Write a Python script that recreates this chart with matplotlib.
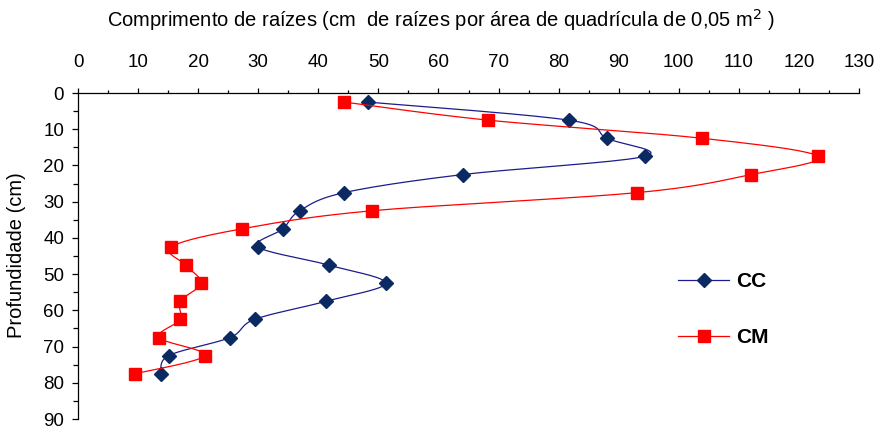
import numpy as np
import matplotlib
matplotlib.use('Agg')
import matplotlib.pyplot as plt
from matplotlib.ticker import MultipleLocator

plt.rcParams['font.family'] = ['Liberation Sans', 'DejaVu Sans']

# profundidade (cm) - centro de cada camada
prof = [2.5, 7.5, 12.5, 17.5, 22.5, 27.5, 32.5, 37.5, 42.5, 47.5,
        52.5, 57.5, 62.5, 67.5, 72.5, 77.5]
cc = [48.2, 81.7, 88.0, 94.3, 64.1, 44.3, 36.9, 34.1, 30.0, 41.7,
      51.2, 41.3, 29.4, 25.3, 15.1, 13.8]
cm = [44.3, 68.3, 103.9, 123.2, 112.1, 93.1, 49.0, 27.3, 15.5, 17.9,
      20.5, 17.0, 17.0, 13.5, 21.1, 9.5]


def smooth(x, y, n=20):
    # curva suavizada tipo Excel (bezier com pontos de controle catmull-rom)
    p = np.column_stack([x, y]).astype(float)
    pts = [p[0]]
    for i in range(len(p) - 1):
        p0 = p[i - 1] if i > 0 else p[i]
        p1 = p[i]
        p2 = p[i + 1]
        p3 = p[i + 2] if i + 2 < len(p) else p[i + 1]
        c1 = p1 + (p2 - p0) / 6.0
        c2 = p2 - (p3 - p1) / 6.0
        t = np.linspace(0, 1, n)[1:, None]
        seg = ((1 - t) ** 3) * p1 + 3 * ((1 - t) ** 2) * t * c1 \
            + 3 * (1 - t) * t ** 2 * c2 + t ** 3 * p2
        pts.extend(seg)
    pts = np.array(pts)
    return pts[:, 0], pts[:, 1]


fig = plt.figure(figsize=(8.83, 4.30), dpi=100)
ax = fig.add_axes([78 / 883, 11 / 430, 781 / 883, 326 / 430])

blue_line = '#1c1c8a'
blue_mk = '#0b2a62'
red = '#ff0000'

sx, sy = smooth(cc, prof)
ax.plot(sx, sy, color=blue_line, lw=0.9)
ax.plot(cc, prof, ls='none', marker='D', ms=7.5, color=blue_mk)
sx, sy = smooth(cm, prof)
ax.plot(sx, sy, color=red, lw=0.9)
ax.plot(cm, prof, ls='none', marker='s', ms=8.5, color=red)

# entradas da legenda
ax.plot([], [], color=blue_line, lw=0.9, marker='D', ms=7.5,
        mfc=blue_mk, mec=blue_mk, label='CC')
ax.plot([], [], color=red, lw=0.9, marker='s', ms=8.5, label='CM')
leg = ax.legend(loc='center left', bbox_to_anchor=(678 / 883, (430 - 309.7) / 430),
                bbox_transform=fig.transFigure, frameon=False, borderpad=0,
                borderaxespad=0, handlelength=2.45, handletextpad=0.34,
                labelspacing=1.8, prop={'weight': 'bold', 'size': 15})

ax.set_xlim(0, 130)
ax.set_ylim(90, 0)
ax.xaxis.set_major_locator(MultipleLocator(10))
ax.xaxis.set_minor_locator(MultipleLocator(5))
ax.yaxis.set_major_locator(MultipleLocator(10))
ax.yaxis.set_minor_locator(MultipleLocator(5))
ax.xaxis.tick_top()
ax.spines['right'].set_visible(False)
ax.spines['bottom'].set_visible(False)
for s in ['top', 'left']:
    ax.spines[s].set_linewidth(0.9)
ax.tick_params(axis='x', which='major', direction='out', length=3.5, width=0.9,
               pad=12.4, labelsize=13.5)
ax.tick_params(axis='x', which='minor', direction='out', length=2.5, width=0.9)
ax.tick_params(axis='y', which='major', direction='out', length=4, width=0.9,
               pad=6, labelsize=13.5)
ax.tick_params(axis='y', which='minor', direction='out', length=3.5, width=0.9)

fig.text(17 / 883, 1 - 255 / 430, 'Profundidade (cm)', rotation=90,
         ha='center', va='center', fontsize=14.5)
fig.text(0.5, 1 - 20 / 430,
         'Comprimento de raízes (cm  de raízes por área de quadrícula de 0,05 m$^{2}$ )',
         ha='center', va='center', fontsize=14.5)

fig.savefig('out.png', dpi=100)
